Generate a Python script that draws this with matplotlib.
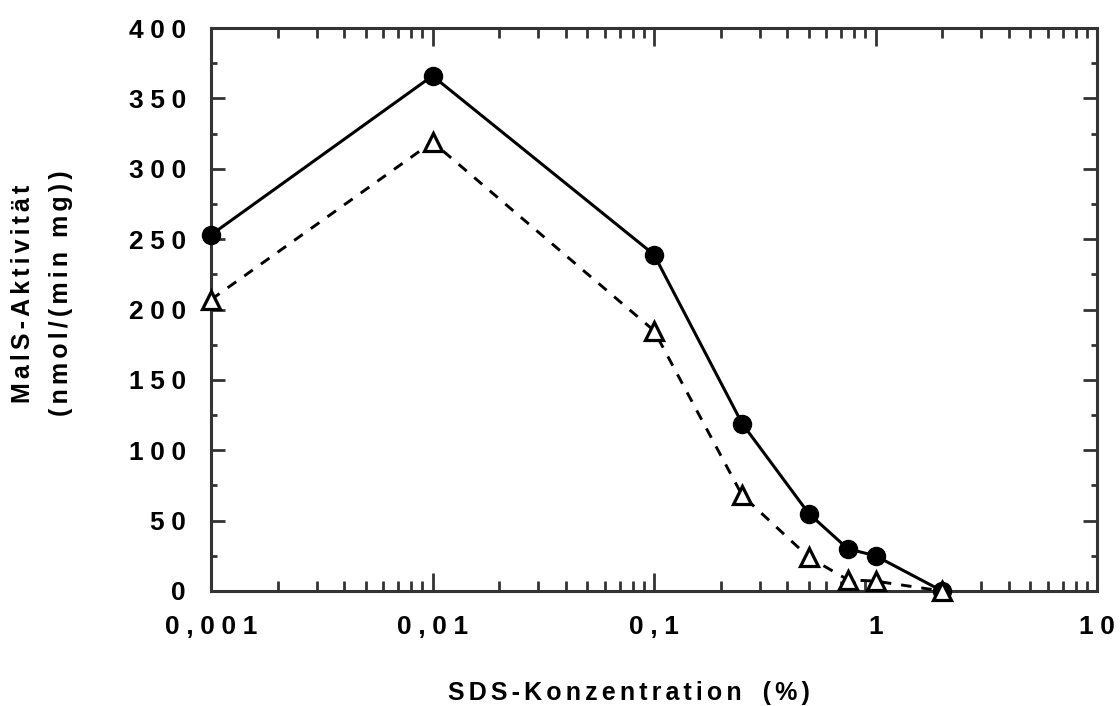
import matplotlib
matplotlib.use("Agg")
import matplotlib.pyplot as plt
from matplotlib.ticker import FixedLocator, FixedFormatter, MultipleLocator, LogLocator, NullFormatter

# ---- data ----
sds_conc = [0.001, 0.01, 0.1, 0.25, 0.5, 0.75, 1.0, 2.0]
activity_solid = [253, 366, 239, 119, 55, 30, 25, 0]
activity_open = [207, 319, 185, 68, 24, 8, 7, 0]

x_ticks = [0.001, 0.01, 0.1, 1, 10]
x_ticklabels = ["0,001", "0,01", "0,1", "1", "10"]
y_ticks = [0, 50, 100, 150, 200, 250, 300, 350, 400]
y_ticklabels = [str(v) for v in y_ticks]

xlabel = "SDS-Konzentration   (%)"
ylabel_1 = "MalS-Aktivität"
ylabel_2 = "(nmol/(min  mg))"

FAM = ["Liberation Sans", "DejaVu Sans"]
plt.rcParams["font.family"] = FAM


def spaced(s, sep="\u2006"):
    # letter-spacing inside words; runs of ordinary spaces are kept as they are
    words = s.split(" ")
    return " ".join(sep.join(w) for w in words)


W, H = 1120, 706
fig = plt.figure(figsize=(W / 100, H / 100), dpi=100)
ax = fig.add_axes([211 / W, 1 - 591 / H, (1097 - 211) / W, (591 - 28) / H])

spine_col = "#333333"

ax.plot(sds_conc, activity_solid, color="black", lw=2.2, marker="o",
        markersize=13, markerfacecolor="black", markeredgecolor="black",
        clip_on=False, zorder=3)
ax.plot(sds_conc, activity_open, color="black", lw=2.1, dashes=(3.6, 3.4),
        marker="^", markersize=13, markerfacecolor="white",
        markeredgecolor="black", markeredgewidth=2.3, clip_on=False, zorder=4)

ax.set_xscale("log")
ax.set_xlim(0.001, 10)
ax.set_ylim(0, 400)

ax.xaxis.set_major_locator(FixedLocator(x_ticks))
ax.xaxis.set_major_formatter(FixedFormatter([spaced(s, "\u2005") for s in x_ticklabels]))
ax.xaxis.set_minor_locator(LogLocator(base=10, subs=range(2, 10)))
ax.xaxis.set_minor_formatter(NullFormatter())

ax.yaxis.set_major_locator(FixedLocator(y_ticks))
ax.yaxis.set_major_formatter(FixedFormatter([spaced(s, "\u2005") for s in y_ticklabels]))
ax.yaxis.set_minor_locator(MultipleLocator(25))

for sp in ax.spines.values():
    sp.set_linewidth(2.2)
    sp.set_color(spine_col)

ax.tick_params(axis="both", which="both", direction="in", top=True, right=True,
               color=spine_col, width=2.0)
ax.tick_params(axis="x", which="major", length=13, pad=17)
ax.tick_params(axis="x", which="minor", length=7)
ax.tick_params(axis="y", which="major", length=10, pad=18)
ax.tick_params(axis="y", which="minor", length=4.3)

for lab in ax.get_xticklabels() + ax.get_yticklabels():
    lab.set_fontsize(19)
    lab.set_fontweight("bold")
    lab.set_family(FAM)

fig.text(629 / W, 1 - 693 / H, spaced(xlabel), ha="center", va="center",
         fontsize=18, fontweight="bold", family=FAM)
fig.text(23 / W, 1 - 294 / H, spaced(ylabel_1), ha="center", va="center",
         rotation=90, fontsize=18, fontweight="bold", family=FAM)
fig.text(61 / W, 1 - 293 / H, spaced(ylabel_2), ha="center", va="center",
         rotation=90, fontsize=18, fontweight="bold", family=FAM)

fig.savefig("out.png", dpi=100)
